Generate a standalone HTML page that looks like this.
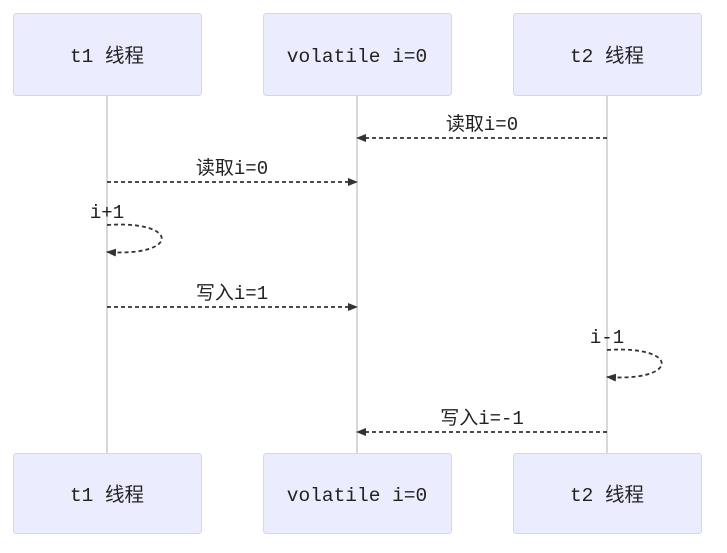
<!DOCTYPE html>
<html><head><meta charset="utf-8"><style>
html,body{margin:0;padding:0;background:#fff;}
svg text{font-family:"Liberation Mono","Noto Sans CJK SC",monospace;fill:#222;}
</style></head><body>
<svg width="727" height="548" viewBox="0 0 727 548" xmlns="http://www.w3.org/2000/svg">
<defs><marker id="a" markerWidth="10" markerHeight="8" refX="9" refY="4" orient="auto" markerUnits="userSpaceOnUse"><path d="M0,0 L10,4 L0,8 z" fill="#333"/></marker></defs>
<g stroke="#d8d8d8" stroke-width="2">
<line x1="107" y1="95" x2="107" y2="453"/><line x1="357" y1="95" x2="357" y2="453"/><line x1="607" y1="95" x2="607" y2="453"/>
</g>
<g fill="#ECECFF" stroke="#d4d4fa" stroke-width="1">
<rect x="13.5" y="13.5" width="188" height="82" rx="3"/><rect x="263.5" y="13.5" width="188" height="82" rx="3"/><rect x="513.5" y="13.5" width="188" height="82" rx="3"/>
<rect x="13.5" y="453.5" width="188" height="80" rx="3"/><rect x="263.5" y="453.5" width="188" height="80" rx="3"/><rect x="513.5" y="453.5" width="188" height="80" rx="3"/>
</g>
<g font-size="19.5" text-anchor="middle">
<text x="107" y="62">t1 线程</text><text x="357" y="62">volatile i=0</text><text x="607" y="62">t2 线程</text>
<text x="107" y="501">t1 线程</text><text x="357" y="501">volatile i=0</text><text x="607" y="501">t2 线程</text>
</g>
<g stroke="#333" stroke-width="1.8" stroke-dasharray="4,3" fill="none" marker-end="url(#a)">
<line x1="607" y1="138" x2="357" y2="138"/>
<line x1="107" y1="182" x2="357" y2="182"/>
<path d="M107,225 C180,220 180,257 107,252"/>
<line x1="107" y1="307" x2="357" y2="307"/>
<path d="M607,350 C680,345 680,382 607,377"/>
<line x1="607" y1="432" x2="357" y2="432"/>
</g>
<g font-size="19" text-anchor="middle">
<text x="482" y="130">读取i=0</text>
<text x="232" y="174">读取i=0</text>
<text x="107" y="218">i+1</text>
<text x="232" y="299">写入i=1</text>
<text x="607" y="343">i-1</text>
<text x="482" y="424">写入i=-1</text>
</g>
</svg>
</body></html>
